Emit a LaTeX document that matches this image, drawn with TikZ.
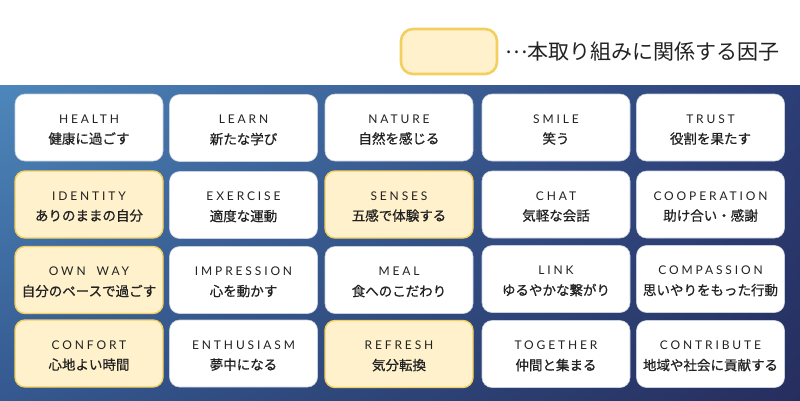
\documentclass[tikz,border=0pt]{standalone}
\usetikzlibrary{shadings}
\usepackage{fontspec}
\newfontfamily\en[LetterSpace=24]{Lato}
\newfontfamily\jp{Noto Sans CJK JP}
\newfontfamily\jpb[FakeBold=0.7]{Noto Sans CJK JP}
\definecolor{ylfill}{HTML}{FEF1CB}
\definecolor{yldraw}{HTML}{F2CF5E}
\definecolor{wtdraw}{HTML}{C9D0DD}
\definecolor{txt}{HTML}{222222}
\definecolor{cUL}{HTML}{4D87BB}
\definecolor{cUR}{HTML}{2C3E77}
\definecolor{cLL}{HTML}{34588F}
\definecolor{cLR}{HTML}{262E5E}
\tikzset{
  card/.style={rounded corners=10pt, minimum width=148pt, minimum height=67pt, inner sep=0pt,
    align=center, text=txt},
  whitecard/.style={card, fill=white, draw=wtdraw, line width=0.6pt},
  yellowcard/.style={card, fill=ylfill, draw=yldraw, line width=1.4pt},
}
\newcommand{\cardtext}[2]{\rule{0pt}{13pt}{\fontsize{12}{12}\selectfont\en #1}\\[8.5pt]{\fontsize{13.5}{13.5}\selectfont\jpb #2}}
\begin{document}
\begin{tikzpicture}[x=1pt,y=-1pt]
\useasboundingbox (0,0) rectangle (800,400);
\fill[white] (0,0) rectangle (800,400);
\shade[upper left=cUL, upper right=cUR, lower left=cLL, lower right=cLR] (0,85) rectangle (800,400);
% legend
\node[rounded corners=12pt, minimum width=96pt, minimum height=45pt, fill=ylfill, draw=yldraw, line width=2.6pt] (legbox) at (449,51.5) {};
\node[anchor=west, inner sep=0pt, text=txt, font=\fontsize{21}{21}\selectfont\jp] (legtext) at (505,51.5) {\raisebox{6pt}{…}本取り組みに関係する因子};
% row 1
\node[whitecard] (health) at (89,127.5) {\cardtext{HEALTH}{健康に過ごす}};
\node[whitecard] (learn) at (243.5,128) {\cardtext{LEARN}{新たな学び}};
\node[whitecard] (nature) at (399,127.5) {\cardtext{NATURE}{自然を感じる}};
\node[whitecard] (smile) at (556,127.5) {\cardtext{SMILE}{笑う}};
\node[whitecard] (trust) at (710.5,127.5) {\cardtext{TRUST}{役割を果たす}};
% row 2
\node[yellowcard] (identity) at (89,204.5) {\cardtext{IDENTITY}{ありのままの自分}};
\node[whitecard] (exercise) at (243.5,205) {\cardtext{EXERCISE}{適度な運動}};
\node[yellowcard] (senses) at (399,204.5) {\cardtext{SENSES}{五感で体験する}};
\node[whitecard] (chat) at (556,204.5) {\cardtext{CHAT}{気軽な会話}};
\node[whitecard] (cooperation) at (710.5,204.5) {\cardtext{COOPERATION}{助け合い・感謝}};
% row 3
\node[yellowcard] (ownway) at (89,280) {\cardtext{OWN\hspace{11pt}WAY}{自分のペースで過ごす}};
\node[whitecard] (impression) at (243.5,280) {\cardtext{IMPRESSION}{心を動かす}};
\node[whitecard] (meal) at (399,280) {\cardtext{MEAL}{食へのこだわり}};
\node[whitecard] (link) at (556,279) {\cardtext{LINK}{ゆるやかな繋がり}};
\node[whitecard] (compassion) at (710.5,279) {\cardtext{COMPASSION}{思いやりをもった行動}};
% row 4
\node[yellowcard] (confort) at (89,353.5) {\cardtext{CONFORT}{心地よい時間}};
\node[whitecard] (enthusiasm) at (243.5,353.5) {\cardtext{ENTHUSIASM}{夢中になる}};
\node[yellowcard] (refresh) at (399,354) {\cardtext{REFRESH}{気分転換}};
\node[whitecard] (together) at (556,354) {\cardtext{TOGETHER}{仲間と集まる}};
\node[whitecard] (contribute) at (710.5,354) {\cardtext{CONTRIBUTE}{地域や社会に貢献する}};
\end{tikzpicture}
\end{document}
